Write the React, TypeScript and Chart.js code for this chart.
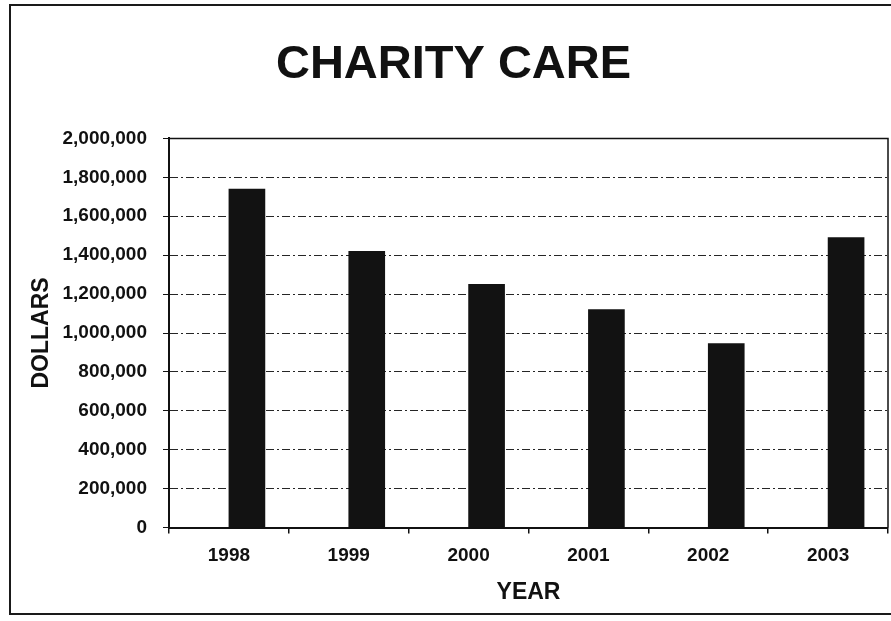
import React, { useEffect, useRef } from "react";
import { Chart, registerables } from "chart.js";

Chart.register(...registerables);

// Charity care provided per year, in dollars
const years = ["1998", "1999", "2000", "2001", "2002", "2003"];
const charityCare = [1740000, 1420000, 1250000, 1120000, 945000, 1490000];
// Empty leading series: keeps each bar in the right half of its year slot
const spacer = [null, null, null, null, null, null];

const yMin = 0;
const yMax = 2000000;
const yStep = 200000;

const FONT = "'Liberation Sans', Arial, Helvetica, sans-serif";

// Draws the solid frame around the plotting area
const plotFrame = {
  id: "plotFrame",
  afterDatasetsDraw(chart: any) {
    const { ctx, chartArea } = chart;
    ctx.save();
    ctx.strokeStyle = "#111";
    ctx.lineWidth = 1.5;
    ctx.setLineDash([]);
    ctx.beginPath();
    ctx.moveTo(chartArea.left, chartArea.top);
    ctx.lineTo(chartArea.right, chartArea.top);
    ctx.lineTo(chartArea.right, chartArea.bottom);
    ctx.stroke();
    ctx.restore();
  },
};

export default function App() {
  const canvasRef = useRef<HTMLCanvasElement>(null);

  useEffect(() => {
    const canvas = canvasRef.current;
    if (!canvas) return;
    const chart = new Chart(canvas, {
      type: "bar",
      data: {
        labels: years,
        datasets: [
          {
            label: "",
            data: spacer,
            backgroundColor: "rgba(0,0,0,0)",
          },
          {
            label: "Charity care",
            data: charityCare,
            backgroundColor: "#121212",
            borderWidth: 0,
          },
        ],
      },
      options: {
        responsive: false,
        animation: false,
        events: [],
        layout: { padding: { left: 19, right: 3, top: 0, bottom: 15 } },
        datasets: {
          bar: { barThickness: 36 },
        },
        plugins: {
          legend: { display: false },
          tooltip: { enabled: false },
          title: {
            display: true,
            text: "CHARITY CARE",
            color: "#111",
            font: { family: FONT, size: 47, weight: "bold" },
            padding: { top: 37, bottom: 45 },
          },
        },
        scales: {
          x: {
            grid: {
              offset: true,
              drawOnChartArea: false,
              drawTicks: true,
              tickLength: 6,
              color: "#111",
              lineWidth: 1.5,
            },
            border: { display: true, color: "#111", width: 2 },
            ticks: {
              color: "#111",
              padding: 11,
              font: { family: FONT, size: 19, weight: "bold" },
            },
            title: {
              display: true,
              text: "YEAR",
              color: "#111",
              font: { family: FONT, size: 23, weight: "bold" },
              padding: { top: 0, bottom: 0 },
            },
          },
          y: {
            min: yMin,
            max: yMax,
            afterFit(scale: any) {
              scale.width = 150;
            },
            grid: {
              color: "#262626",
              lineWidth: 1,
              tickLength: 6,
              tickColor: "#111",
              tickBorderDash: [],
            },
            border: { display: true, color: "#111", width: 2, dash: [8, 3, 2, 3] },
            ticks: {
              stepSize: yStep,
              color: "#111",
              padding: 16,
              font: { family: FONT, size: 19, weight: "bold" },
              callback: (v: any) => Number(v).toLocaleString("en-US"),
            },
            title: {
              display: true,
              text: "DOLLARS",
              color: "#111",
              font: { family: FONT, size: 23, weight: "bold" },
              padding: { top: 9, bottom: 0 },
            },
          },
        },
      },
      plugins: [plotFrame],
    });
    return () => chart.destroy();
  }, []);

  return (
    <div
      style={{
        position: "fixed",
        left: 0,
        top: 0,
        width: 891,
        height: 621,
        overflow: "hidden",
        background: "#fff",
      }}
    >
      <div
        style={{
          position: "absolute",
          left: 9,
          top: 4,
          width: 1000,
          height: 611,
          border: "2px solid #1a1a1a",
          boxSizing: "border-box",
        }}
      />
      <canvas
        ref={canvasRef}
        width={891}
        height={621}
        style={{ position: "absolute", left: 0, top: 0 }}
      />
    </div>
  );
}
